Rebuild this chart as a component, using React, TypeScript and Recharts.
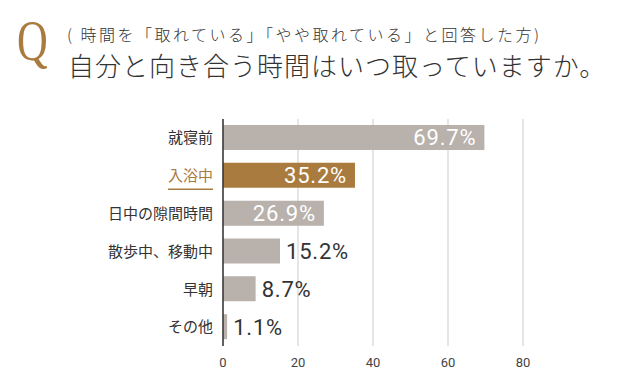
import React from "react";
import { BarChart, Bar, XAxis, YAxis, CartesianGrid, Cell, LabelList } from "recharts";

const categories = ["就寝前", "入浴中", "日中の隙間時間", "散歩中、移動中", "早朝", "その他"];
const values = [69.7, 35.2, 26.9, 15.2, 8.7, 1.1];
const highlighted = "入浴中";
const xTicks = [0, 20, 40, 60, 80];

const subtitle = "( 時間を「取れている」「やや取れている」と回答した方)";
const title = "自分と向き合う時間はいつ取っていますか。";

const BROWN = "#a97b3f";
const GRAY = "#b8b1ac";
const TEXT = "#333";
const JP = "'Noto Sans CJK JP', 'Noto Sans', sans-serif";

const data = categories.map((name, i) => ({ name, value: values[i] }));

const CategoryTick = (props: any) => {
  const { x, y, payload } = props;
  const hl = payload.value === highlighted;
  const fs = 15;
  return (
    <g>
      <text x={x} y={y} dy="0.36em" textAnchor="end" fontSize={fs} fontFamily={JP} fill={hl ? BROWN : TEXT}>
        {payload.value}
      </text>
      {hl && (
        <line x1={x - payload.value.length * fs} x2={x} y1={y + 13.5} y2={y + 13.5} stroke={BROWN} strokeWidth={1.5} />
      )}
    </g>
  );
};

const ValueLabel = (props: any) => {
  const { x, y, width, height, value } = props;
  const inside = value > 20;
  const tx = inside ? x + width - 8 : x + width + 6;
  return (
    <text
      x={tx}
      y={y + height / 2}
      dy="0.36em"
      textAnchor={inside ? "end" : "start"}
      fontSize={22}
      fontFamily="Roboto, sans-serif"
      letterSpacing={0.8}
      fill={inside ? "#fff" : TEXT}
    >
      {Number(value).toFixed(1)}%
    </text>
  );
};

export default function App() {
  return (
    <div style={{ position: "absolute", left: 0, top: 0, width: 640, height: 387, background: "#fff", overflow: "hidden" }}>
      <div
        style={{
          position: "absolute",
          left: 17,
          top: 9,
          fontFamily: "'Liberation Serif', serif",
          fontSize: 56,
          color: BROWN,
          lineHeight: "64px",
          transform: "scaleX(0.76)",
          transformOrigin: "left top",
        }}
      >
        Q
      </div>
      <div
        style={{
          position: "absolute",
          left: 67,
          top: 23,
          fontFamily: JP,
          fontSize: 16,
          fontWeight: 300,
          lineHeight: "22px",
          letterSpacing: 2.5,
          color: TEXT,
          whiteSpace: "nowrap",
        }}
      >
        {subtitle}
      </div>
      <div
        style={{
          position: "absolute",
          left: 68,
          top: 48,
          fontFamily: JP,
          fontSize: 26,
          fontWeight: 300,
          lineHeight: "34px",
          letterSpacing: 1,
          color: TEXT,
          whiteSpace: "nowrap",
        }}
      >
        {title}
      </div>
      <div style={{ position: "absolute", left: 0, top: 0 }}>
        <BarChart
          layout="vertical"
          width={640}
          height={387}
          data={data}
          margin={{ top: 119, right: 117, bottom: 11, left: 0 }}
          barSize={25}
        >
          <CartesianGrid horizontal={false} vertical stroke="#dcdcdc" strokeWidth={1.5} />
          <XAxis
            type="number"
            domain={[0, 80]}
            ticks={xTicks}
            axisLine={false}
            tickLine={false}
            tickMargin={6}
            height={30}
            tick={{ fontSize: 13, fill: "#444", fontFamily: "Roboto, sans-serif" }}
          />
          <YAxis
            type="category"
            dataKey="name"
            width={223}
            axisLine={{ stroke: "#333", strokeWidth: 1.5 }}
            tickLine={false}
            tickMargin={4}
            tick={<CategoryTick />}
          />
          <Bar dataKey="value" isAnimationActive={false}>
            {data.map((d) => (
              <Cell key={d.name} fill={d.name === highlighted ? BROWN : GRAY} />
            ))}
            <LabelList dataKey="value" content={<ValueLabel />} />
          </Bar>
        </BarChart>
      </div>
    </div>
  );
}
